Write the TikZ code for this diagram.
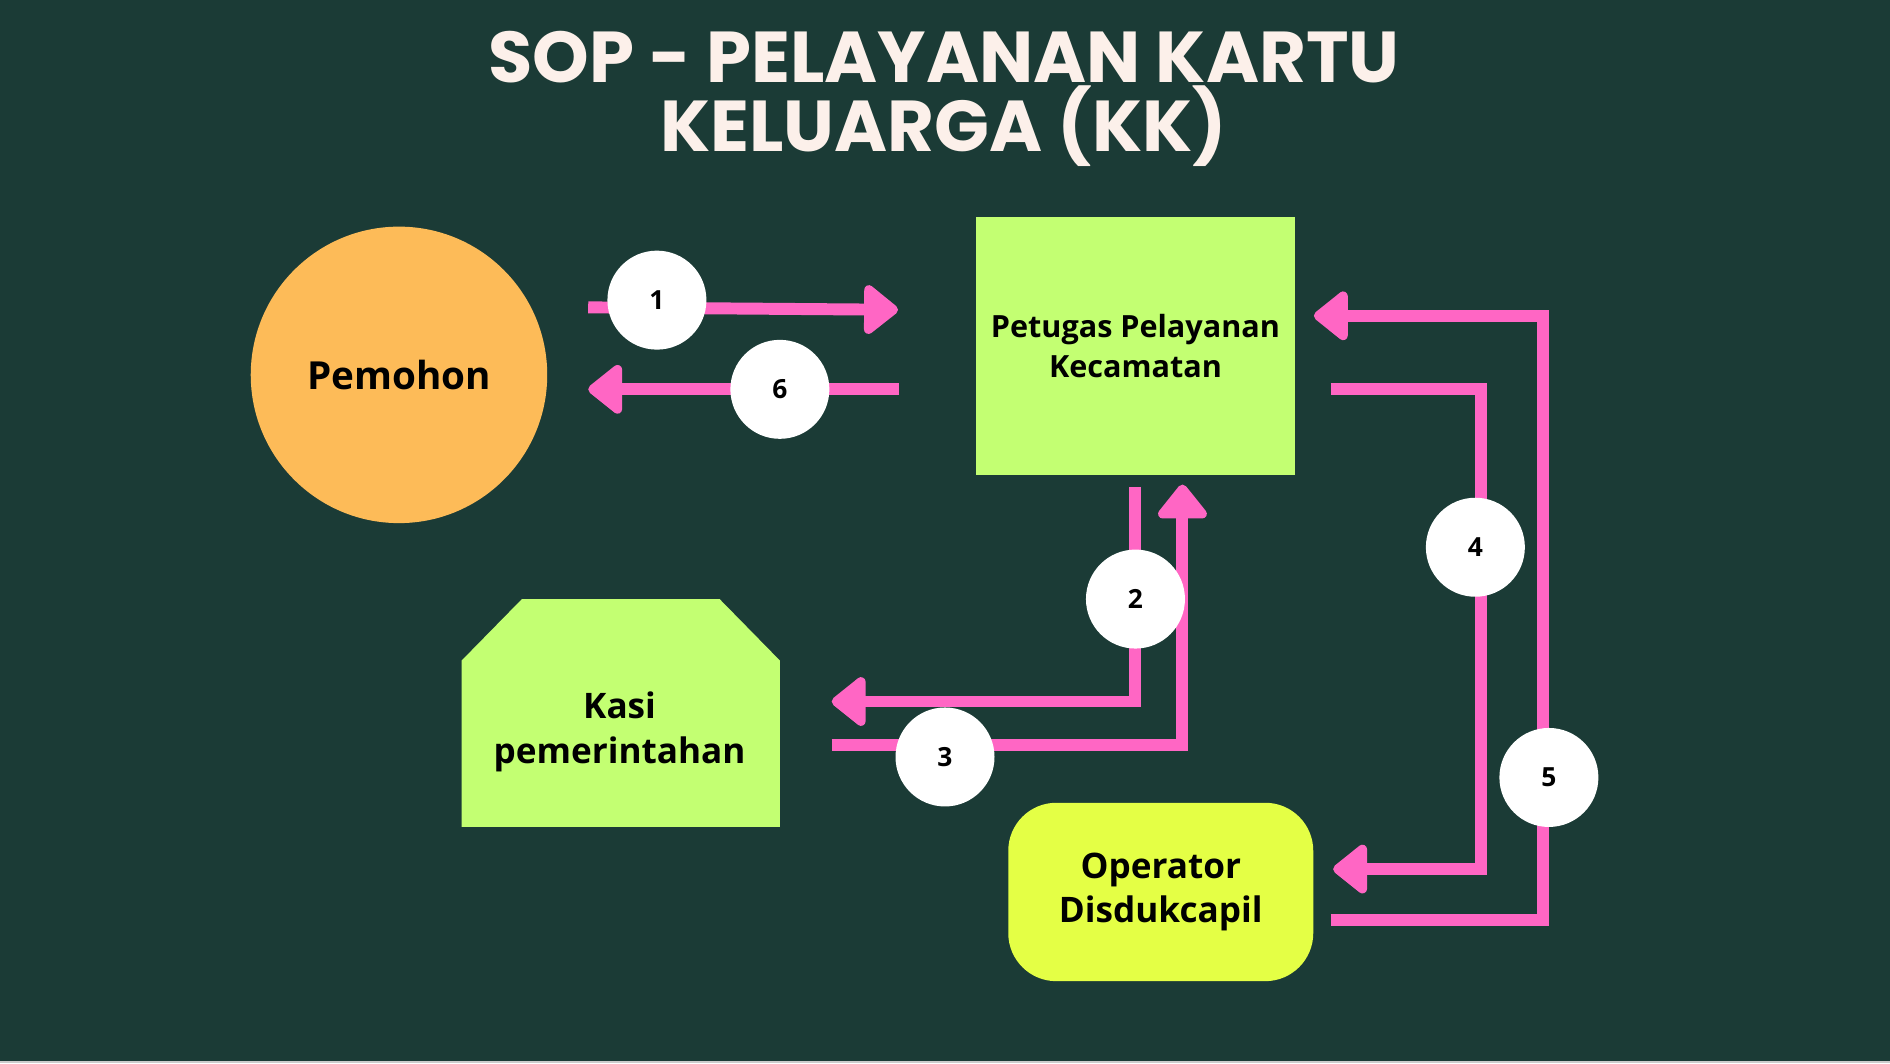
\documentclass[tikz,border=0pt]{standalone}
\usepackage{fontspec}
\setmainfont{Open Sans}
\newfontfamily\titlefont{Poppins}
\usetikzlibrary{arrows.meta}
\definecolor{bgc}{HTML}{1B3B36}
\definecolor{orangec}{HTML}{FDBB58}
\definecolor{limec}{HTML}{C3FF72}
\definecolor{yellowc}{HTML}{E4FF45}
\definecolor{pinkc}{HTML}{FF66C4}
\definecolor{titlec}{HTML}{FCF0EA}
\begin{document}
\begin{tikzpicture}[x=0.012054cm, y=-0.012054cm, line join=miter,
		>={Triangle[length=10.5pt,width=16pt,round]},
		flow/.style={draw=pinkc, line width=3.4pt, ->},
		num/.style={circle, fill=white, minimum size=0.99cm, inner sep=0pt, font=\bfseries\fontsize{7.5}{9}\selectfont},
		lbl/.style={align=center, inner sep=0pt, text=black}]
	\fill[bgc] (0,0) rectangle (1568,882);
	\fill[gray!40] (0,880) rectangle (1568,882);
	\useasboundingbox (0,0) rectangle (1568,882);
	% title
	\node[lbl, text=titlec, font=\titlefont\bfseries\fontsize{20.5}{18.8}\selectfont] (title) at (783,82) {SOP - PELAYANAN KARTU\\KELUARGA (KK)};
	% blocks
	\node[lbl, circle, fill=orangec, minimum size=2.965cm, font=\bfseries\fontsize{11}{13}\selectfont] (pemohon) at (331,311) {Pemohon};
	\node[lbl, rectangle, fill=limec, minimum width=3.182cm, minimum height=2.58cm, font=\bfseries\fontsize{8.7}{11.3}\selectfont] (petugas) at (942,287) {Petugas Pelayanan\\Kecamatan};
	\fill[limec] (383,686) -- (383,548) -- (433,497) -- (597,497) -- (647,548) -- (647,686) -- cycle;
	\node[lbl, rectangle, minimum width=3.182cm, minimum height=2.278cm, font=\bfseries\fontsize{10}{12.7}\selectfont] (kasi) at (514,607) {Kasi\\pemerintahan};
	\node[lbl, rectangle, rounded corners=0.48cm, fill=yellowc, minimum width=3.05cm, minimum height=1.784cm, font=\bfseries\fontsize{10}{12.4}\selectfont] (operator) at (963,740) {Operator\\Disdukcapil};
	% arrow ends
	\coordinate (s1) at (488,255); \coordinate (e1) at (745,257);
	\coordinate (s6) at (746,323); \coordinate (e6) at (488,323);
	\coordinate (s2) at (942,404); \coordinate (e2) at (690,582);
	\coordinate (s3) at (690,618); \coordinate (e3) at (981,402);
	\coordinate (s4) at (1104,323); \coordinate (e4) at (1106,721);
	\coordinate (s5) at (1104,763); \coordinate (e5) at (1090,262);
	\draw[flow] (s1) -- (e1);
	\draw[flow] (s6) -- (e6);
	\draw[flow] (s2) |- (e2);
	\draw[flow] (s3) -| (e3);
	\draw[flow] (s4) -- (1229,323) |- (e4);
	\draw[flow] (s5) -- (1280,763) |- (e5);
	% step numbers
	\foreach \n/\p in {1/{(545,249)},6/{(647,323)},2/{(942,497)},3/{(784,628)},4/{(1224,454)},5/{(1285,645)}}
		\node[num] (n\n) at \p {\n};
\end{tikzpicture}
\end{document}
